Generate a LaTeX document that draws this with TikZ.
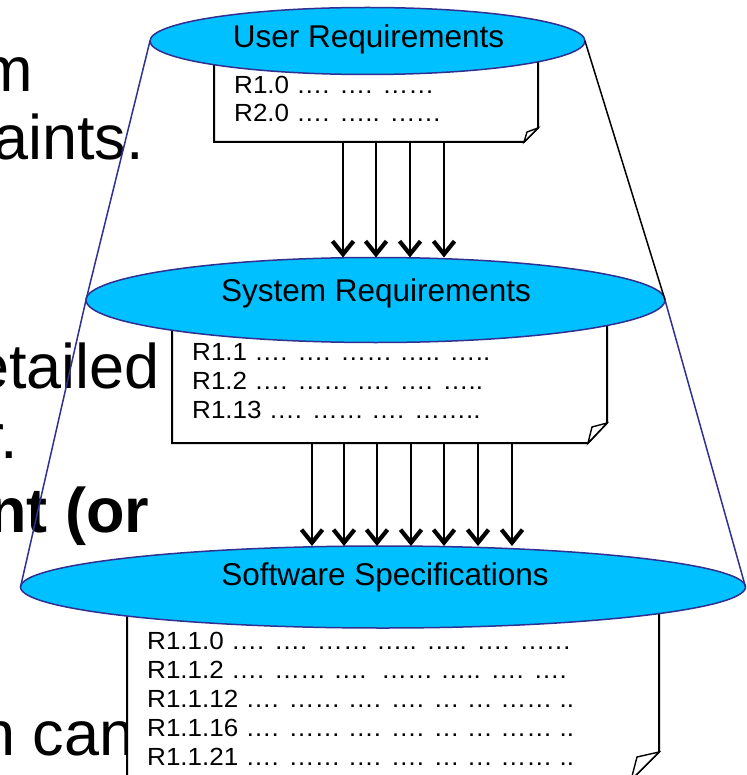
\documentclass[tikz,border=0pt]{standalone}
\usepackage{fontspec}
\setmainfont{Liberation Sans}
\newfontfamily\boxfont[FakeStretch=1.05]{Liberation Sans}
\usetikzlibrary{shapes.geometric,arrows.meta}
\definecolor{skyfill}{RGB}{0,192,255}
\definecolor{rimblue}{RGB}{46,49,146}

\begin{document}
\begin{tikzpicture}[x=1pt,y=-1pt,
  bgtext/.style={anchor=base west, inner sep=0pt, font=\fontsize{63}{63}\selectfont},
  level/.style={ellipse, draw=rimblue, fill=skyfill, line width=1.5pt, inner sep=0pt, outer sep=0pt},
  levellabel/.style={anchor=base, inner sep=0pt, font=\fontsize{31.5}{31.5}\selectfont},
  docbox/.style={draw=none, inner sep=0pt, outer sep=0pt, anchor=north west},
  docline/.style={draw=black, fill=white, line width=2pt, line join=miter},
  flap/.style={draw=black, fill=white, line width=1.4pt, line join=miter},
  reqline/.style={anchor=base west, inner sep=0pt, font=\boxfont\fontsize{24.8}{24.8}\selectfont},
  arr/.style={line width=1.6pt, -{Straight Barb[length=13pt,width=21pt,line width=4.2pt]}},
  cone/.style={line width=1.5pt}]

\useasboundingbox (0,0) rectangle (746,775);
\clip (0,0) rectangle (746,775);

% slide text lying behind the funnel
\node[bgtext] (t1) at (-20,92) {m};
\node[bgtext] (t2) at (-7,160) {aints.};
\node[bgtext] (t3) at (-26,388) {etailed};
\node[bgtext] (t4) at (-17,458) {r.};
\node[bgtext, font=\fontsize{63}{63}\selectfont\bfseries] (t5) at (-12,532) {nt (or};
\node[bgtext] (t6) at (-20,755) {n can};

% requirement documents with a curled bottom-right corner
\node[docbox, minimum width=324pt, minimum height=101pt] (b1) at (214,41) {};
\draw[docline] (b1.north west) -- (b1.south west) -- ([xshift=-14pt]b1.south east)
  -- ([yshift=14pt]b1.south east) -- (b1.north east) -- cycle;
\draw[flap] ([xshift=-14pt]b1.south east) -- ([xshift=-11pt,yshift=10pt]b1.south east)
  -- ([yshift=14pt]b1.south east) -- cycle;

\node[docbox, minimum width=435pt, minimum height=143pt] (b2) at (172,300) {};
\draw[docline] (b2.north west) -- (b2.south west) -- ([xshift=-19pt]b2.south east)
  -- ([yshift=20pt]b2.south east) -- (b2.north east) -- cycle;
\draw[flap] ([xshift=-19pt]b2.south east) -- ([xshift=-15pt,yshift=16pt]b2.south east)
  -- ([yshift=20pt]b2.south east) -- cycle;

\node[docbox, minimum width=532pt, minimum height=193pt] (b3) at (127,587) {};
\draw[docline] (b3.north west) -- (b3.south west) -- ([xshift=-28pt]b3.south east)
  -- ([yshift=28pt]b3.south east) -- (b3.north east) -- cycle;
\draw[flap] ([xshift=-28pt]b3.south east) -- ([xshift=-22pt,yshift=23pt]b3.south east)
  -- ([yshift=28pt]b3.south east) -- cycle;

% document contents
\node[reqline] (r10) at (234,94) {R1.0 …. …. ……};
\node[reqline] (r20) at (234,122) {R2.0 …. ….. ……};

\node[reqline] (r11) at (192,360) {R1.1 …. …. …… ….. …..};
\node[reqline] (r12) at (192,389) {R1.2 …. …… …. …. …..};
\node[reqline] (r113) at (192,418) {R1.13 …. …… …. ……..};

\node[reqline] (r110) at (147,649) {R1.1.0 …. …. …… ….. ….. …. ……};
\node[reqline] (r112) at (147,678) {R1.1.2 …. …… ….\ \ …… ….. …. ….};
\node[reqline] (r1112) at (147,707) {R1.1.12 …. …… …. …. … … …… ..};
\node[reqline] (r1116) at (147,736) {R1.1.16 …. …… …. …. … … …… ..};
\node[reqline] (r1121) at (147,765) {R1.1.21 …. …… …. …. … … …… ..};

% the three levels
\node[level, minimum width=435pt, minimum height=67pt] (e1) at (367.5,41) {};
\node[level, minimum width=579pt, minimum height=85pt] (e2) at (375.5,300) {};
\node[level, minimum width=725pt, minimum height=82pt] (e3) at (383,587) {};

\node[levellabel] (l1) at (368.5,48) {User Requirements};
\node[levellabel] (l2) at (376,301) {System Requirements};
\node[levellabel] (l3) at (385,585) {Software Specifications};

% refinement arrows
\foreach \x in {343,376,410,444}
  \draw[arr] (b1.south -| \x,0) -- (e2.north -| \x,0);
\foreach \x in {312,344,377,411,444,478,512}
  \draw[arr] (b2.south -| \x,0) -- (e3.north -| \x,0);

% funnel outline
\draw[cone, rimblue] (e1.west) -- (e2.west) -- (e3.west);
\draw[cone, black] (e1.east) -- (e2.east);
\draw[cone, rimblue] (e2.east) -- (e3.east);

\end{tikzpicture}
\end{document}
